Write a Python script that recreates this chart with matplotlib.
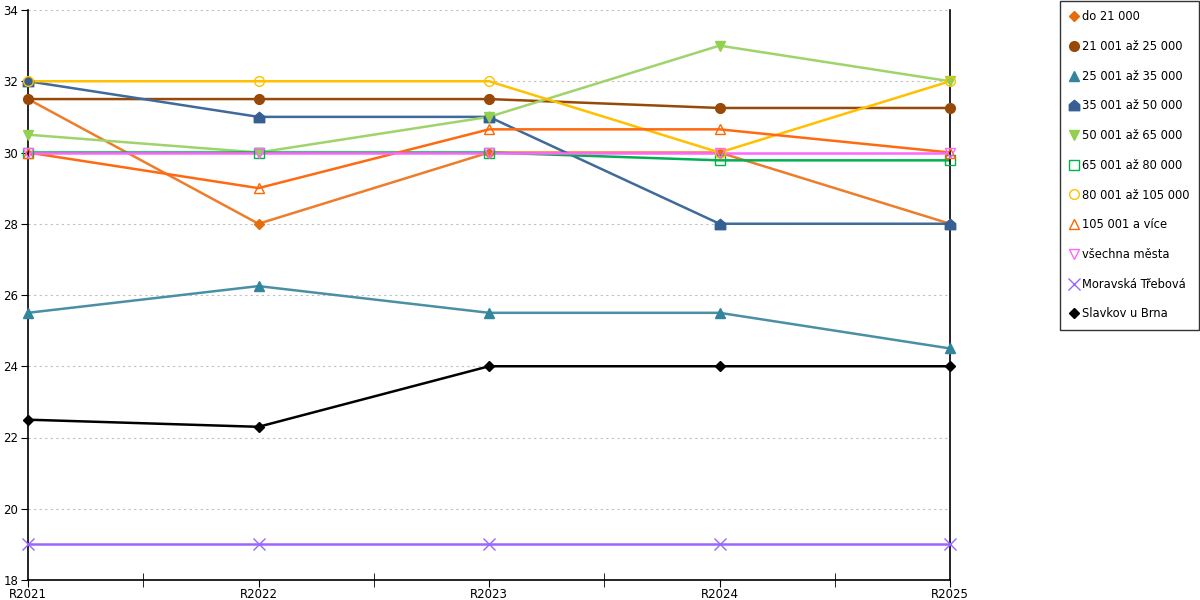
import matplotlib.pyplot as plt
import numpy as np
from matplotlib.path import Path

plt.rcParams['font.family'] = ['DejaVu Sans']

years = ['R2021', 'R2022', 'R2023', 'R2024', 'R2025']

do_21000 = [31.5, 28, 30, 30, 28]
od_21001 = [31.5, 31.5, 31.5, 31.25, 31.25]
od_25001 = [25.5, 26.25, 25.5, 25.5, 24.5]
od_35001 = [32, 31, 31, 28, 28]
od_50001 = [30.5, 30, 31, 33, 32]
od_65001 = [30, 30, 30, 29.78, 29.78]
od_80001 = [32, 32, 32, 30, 32]
od_105001 = [30, 29, 30.65, 30.65, 30]
vsechna = [30, 30, 30, 30, 30]
moravska = [19, 19, 19, 19, 19]
slavkov = [22.5, 22.3, 24, 24, 24]

# domecek (ctverec se strechou) pro 35 001 az 50 000
house = Path([(-1, -1), (1, -1), (1, 0.15), (0, 1), (-1, 0.15), (-1, -1)],
             [Path.MOVETO] + [Path.LINETO] * 4 + [Path.CLOSEPOLY])

series = [
    ('do 21 000', do_21000, '#EE7D2B', 'D', '#E46C0A', True, 5.5),
    ('21 001 až 25 000', od_21001, '#984807', 'o', '#984807', True, 7),
    ('25 001 až 35 000', od_25001, '#4A8FA3', '^', '#31859C', True, 7.5),
    ('35 001 až 50 000', od_35001, '#3F6A9C', house, '#376092', True, 7.5),
    ('50 001 až 65 000', od_50001, '#9ED46A', 'v', '#92D050', True, 7.5),
    ('65 001 až 80 000', od_65001, '#00B050', 's', '#00B050', False, 7),
    ('80 001 až 105 000', od_80001, '#FFC000', 'o', '#FFC000', False, 7),
    ('105 001 a více', od_105001, '#FF6A10', '^', '#FF6600', False, 7.5),
    ('všechna města', vsechna, '#FF66FF', 'v', '#FF66FF', False, 7.5),
    ('Moravská Třebová', moravska, '#9966FF', 'x', '#9966FF', False, 8),
    ('Slavkov u Brna', slavkov, '#000000', 'D', '#000000', True, 5.5),
]

fig = plt.figure(figsize=(12, 6), dpi=100)
ax = fig.add_axes([28 / 1200, 20 / 600, 922 / 1200, 570 / 600])

x = np.arange(len(years))
handles = []
for name, vals, lc, m, mc, filled, ms in series:
    ax.plot(x, vals, color=lc, lw=1.8, zorder=2)
    ax.plot(x, vals, ls='none', marker=m, ms=ms, mew=1.0,
            markerfacecolor=mc if filled else 'none', markeredgecolor=mc,
            zorder=3, clip_on=False)
    h, = ax.plot([], [], ls='none', marker=m, ms=ms, mew=1.0,
                 markerfacecolor=mc if filled else 'none', markeredgecolor=mc)
    handles.append((h, name))

ax.set_xlim(0, 4)
ax.set_ylim(18, 34)
ax.set_yticks(np.arange(18, 35, 2))
ax.set_xticks(x)
ax.set_xticklabels(years)
ax.set_xticks(x[:-1] + 0.5, minor=True)
ax.tick_params(axis='x', which='major', direction='out', length=5, labelsize=8.5, pad=1)
ax.tick_params(axis='x', which='minor', direction='inout', length=10)
ax.tick_params(axis='y', direction='out', length=5, labelsize=8.5, pad=2)
ax.yaxis.grid(True, ls=(0, (2, 3)), color='#BFBFBF', lw=0.8)
ax.set_axisbelow(True)
ax.spines['top'].set_visible(False)
for s in ['left', 'bottom', 'right']:
    ax.spines[s].set_color('black')
    ax.spines[s].set_linewidth(1.2)

leg = fig.legend([h for h, _ in handles], [n for _, n in handles],
                 loc='upper right', bbox_to_anchor=(1198.5 / 1200, 1 - 1 / 600),
                 fontsize=8.3, frameon=True, fancybox=False, labelspacing=1.45,
                 handlelength=0.7, handletextpad=0.35, borderpad=0.8,
                 borderaxespad=0)
leg.get_frame().set_edgecolor('black')
leg.get_frame().set_linewidth(1.0)

fig.savefig('out.png', dpi=100)
